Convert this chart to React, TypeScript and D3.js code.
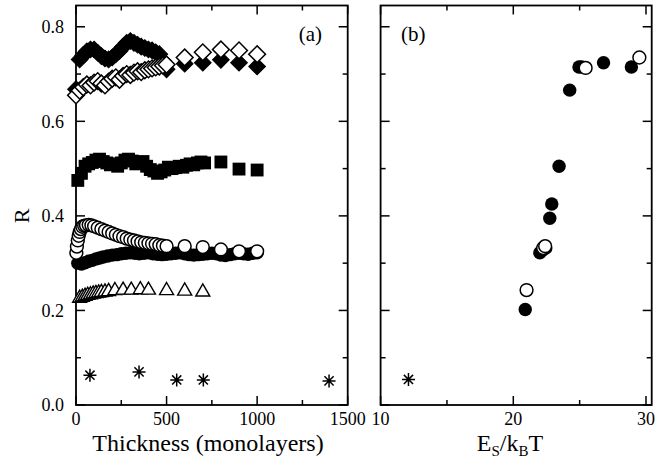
import React from "react"
import * as d3 from "d3"

// ---- panel (a): R vs thickness ----
const fdX = [0, 20, 40, 60, 80, 100, 120, 140, 160, 180, 200, 220, 240, 260, 280, 300, 320, 340, 360, 380, 400, 420, 440, 460, 480, 500, 600, 700, 800, 900, 1000]
const fdR = [0.668, 0.731, 0.74, 0.748, 0.752, 0.752, 0.745, 0.738, 0.733, 0.731, 0.735, 0.742, 0.749, 0.758, 0.766, 0.77, 0.766, 0.762, 0.758, 0.755, 0.752, 0.75, 0.746, 0.742, 0.728, 0.71, 0.722, 0.724, 0.73, 0.724, 0.716]

const odX = [0, 20, 40, 60, 80, 100, 120, 140, 160, 180, 200, 220, 240, 260, 280, 300, 320, 340, 360, 380, 400, 420, 440, 460, 480, 500, 600, 700, 800, 900, 1000]
const odR = [0.655, 0.665, 0.672, 0.678, 0.676, 0.682, 0.685, 0.68, 0.676, 0.684, 0.69, 0.693, 0.688, 0.696, 0.7, 0.698, 0.703, 0.706, 0.704, 0.708, 0.71, 0.712, 0.714, 0.716, 0.718, 0.72, 0.735, 0.746, 0.752, 0.75, 0.742]

const sqX = [10, 30, 50, 70, 90, 110, 130, 150, 170, 190, 210, 230, 250, 270, 290, 310, 330, 350, 370, 390, 410, 430, 450, 470, 490, 510, 530, 550, 570, 590, 610, 630, 650, 670, 690, 710, 800, 900, 1000]
const sqR = [0.475, 0.49, 0.505, 0.51, 0.513, 0.518, 0.52, 0.515, 0.512, 0.508, 0.51, 0.505, 0.512, 0.518, 0.52, 0.516, 0.51, 0.512, 0.515, 0.505, 0.498, 0.495, 0.49, 0.493, 0.497, 0.503, 0.5, 0.502, 0.505, 0.503, 0.507, 0.51, 0.508, 0.512, 0.514, 0.512, 0.514, 0.499, 0.497]

const fcX = [10, 30, 50, 70, 90, 110, 130, 150, 175, 200, 225, 250, 275, 300, 325, 350, 375, 400, 425, 450, 475, 500, 525, 550, 575, 600, 625, 650, 675, 700, 725, 750, 775, 800, 825, 850, 875, 900, 925, 950, 975, 1000]
const fcR = [0.3, 0.298, 0.301, 0.304, 0.306, 0.309, 0.311, 0.313, 0.315, 0.317, 0.318, 0.32, 0.321, 0.322, 0.321, 0.32, 0.321, 0.322, 0.32, 0.319, 0.318, 0.319, 0.32, 0.321, 0.322, 0.32, 0.318, 0.317, 0.318, 0.319, 0.32, 0.321, 0.32, 0.317, 0.316, 0.318, 0.32, 0.321, 0.32, 0.319, 0.321, 0.322]

const ocX = [2, 5, 10, 15, 20, 27, 35, 45, 55, 70, 85, 100, 120, 140, 160, 180, 200, 220, 240, 260, 280, 300, 320, 340, 360, 380, 400, 420, 440, 460, 480, 500, 600, 700, 800, 900, 1000]
const ocR = [0.322, 0.335, 0.348, 0.358, 0.366, 0.372, 0.377, 0.379, 0.38, 0.381, 0.38, 0.378, 0.375, 0.372, 0.369, 0.366, 0.363, 0.36, 0.357, 0.355, 0.352, 0.35, 0.348, 0.346, 0.344, 0.343, 0.342, 0.341, 0.34, 0.338, 0.337, 0.336, 0.336, 0.334, 0.329, 0.325, 0.325]

const triX = [20, 35, 50, 65, 80, 95, 110, 125, 140, 160, 180, 215, 260, 305, 355, 400, 500, 600, 700]
const triR = [0.226, 0.228, 0.23, 0.232, 0.233, 0.235, 0.236, 0.237, 0.238, 0.239, 0.24, 0.242, 0.243, 0.243, 0.244, 0.243, 0.242, 0.241, 0.239]

const starX = [77, 348, 556, 703, 1397]
const starR = [0.063, 0.07, 0.053, 0.053, 0.051]

// ---- panel (b): R vs Es/kBT ----
const bFilledX = [20.9, 22.0, 22.15, 22.3, 22.45, 22.75, 22.9, 23.45, 24.25, 24.95, 25.15, 26.8, 28.9]
const bFilledR = [0.202, 0.322, 0.326, 0.33, 0.332, 0.395, 0.425, 0.505, 0.666, 0.715, 0.715, 0.724, 0.715]
const bOpenX = [21.0, 22.25, 22.4, 25.45, 29.5]
const bOpenR = [0.243, 0.332, 0.336, 0.713, 0.735]
const bStarX = [12.1]
const bStarR = [0.054]

const yTicks = [0, 0.1, 0.2, 0.3, 0.4, 0.5, 0.6, 0.7, 0.8]
const yLabels = ["0.0", "0.2", "0.4", "0.6", "0.8"]
const xTicksA = [0, 250, 500, 750, 1000, 1250, 1500]
const xLabelsA = ["0", "500", "1000", "1500"]
const xTicksB = [10, 15, 20, 25, 30]
const xLabelsB = ["10", "20", "30"]

const FONT = "'Liberation Serif', 'Times New Roman', serif"

const top = 5.5
const bottom = 405
const y = d3.scaleLinear().domain([0, 0.845]).range([bottom, top])
const xa = d3.scaleLinear().domain([0, 1500]).range([76, 347.7])
const xb = d3.scaleLinear().domain([10, 30.43]).range([380.6, 651.7])

const zip = (xs: number[], ys: number[]) => xs.map((v, i) => [v, ys[i]])

function Frame({ x, ticks, labels, showYLabels }: any) {
  const [x0, x1] = x.range()
  const majorY = (v: number) => Math.abs(Math.round(v * 10) % 2) === 0
  const isMajorX = (v: number) => labels.includes(String(v))
  return (
    <g>
      <rect x={x0} y={top} width={x1 - x0} height={bottom - top} fill="none" stroke="#000" strokeWidth={1.8} />
      {yTicks.map((v) => {
        const len = majorY(v) ? 9 : 5
        return (
          <g key={"y" + v}>
            <line x1={x0} x2={x0 + len} y1={y(v)} y2={y(v)} stroke="#000" strokeWidth={1.5} />
            <line x1={x1} x2={x1 - len} y1={y(v)} y2={y(v)} stroke="#000" strokeWidth={1.5} />
          </g>
        )
      })}
      {ticks.map((v: number) => {
        const len = isMajorX(v) ? 9 : 5
        return (
          <g key={"x" + v}>
            <line x1={x(v)} x2={x(v)} y1={bottom} y2={bottom - len} stroke="#000" strokeWidth={1.5} />
            <line x1={x(v)} x2={x(v)} y1={top} y2={top + len} stroke="#000" strokeWidth={1.5} />
          </g>
        )
      })}
      {labels.map((l: string) => (
        <text key={"l" + l} x={x(+l)} y={425} textAnchor="middle" fontFamily={FONT} fontSize={18}>
          {l}
        </text>
      ))}
      {showYLabels &&
        yLabels.map((l) => (
          <text key={"yl" + l} x={64} y={y(+l)} dy="0.35em" textAnchor="end" fontFamily={FONT} fontSize={18}>
            {l}
          </text>
        ))}
    </g>
  )
}

const starPath = (cx: number, cy: number, r: number) => {
  const p = d3.path()
  for (let k = 0; k < 4; k++) {
    const a = (k * Math.PI) / 4
    p.moveTo(cx - r * Math.cos(a), cy - r * Math.sin(a))
    p.lineTo(cx + r * Math.cos(a), cy + r * Math.sin(a))
  }
  return p.toString()
}

const diamond = d3.symbol().type(d3.symbolSquare).size(140)
const square = d3.symbol().type(d3.symbolSquare).size(165)
const tri = d3.symbol().type(d3.symbolTriangle).size(85)

export default function App() {
  return (
    <svg width={666} height={459} style={{ position: "absolute", left: 0, top: 0, background: "#fff" }}>
      <Frame x={xa} ticks={xTicksA} labels={xLabelsA} showYLabels />
      <Frame x={xb} ticks={xTicksB} labels={xLabelsB} showYLabels={false} />

      {/* panel a markers */}
      {zip(fdX, fdR).map(([a, r], i) => (
        <path key={"fd" + i} d={diamond() as string} transform={`translate(${xa(a)},${y(r)}) rotate(45)`} fill="#000" stroke="#000" strokeWidth={1} />
      ))}
      {zip(odX, odR).map(([a, r], i) => (
        <path key={"od" + i} d={diamond() as string} transform={`translate(${xa(a)},${y(r)}) rotate(45)`} fill="#fff" stroke="#000" strokeWidth={1.5} />
      ))}
      {zip(sqX, sqR).map(([a, r], i) => (
        <path key={"sq" + i} d={square() as string} transform={`translate(${xa(a)},${y(r)})`} fill="#000" />
      ))}
      {zip(fcX, fcR).map(([a, r], i) => (
        <circle key={"fc" + i} cx={xa(a)} cy={y(r)} r={6.7} fill="#000" />
      ))}
      {zip(ocX, ocR).map(([a, r], i) => (
        <circle key={"oc" + i} cx={xa(a)} cy={y(r)} r={6.4} fill="#fff" stroke="#000" strokeWidth={1.5} />
      ))}
      {zip(triX, triR).map(([a, r], i) => (
        <path key={"tr" + i} d={tri() as string} transform={`translate(${xa(a)},${y(r)})`} fill="#fff" stroke="#000" strokeWidth={1.4} />
      ))}
      {zip(starX, starR).map(([a, r], i) => (
        <path key={"st" + i} d={starPath(xa(a), y(r), 6.5)} stroke="#000" strokeWidth={1.5} fill="none" />
      ))}

      {/* panel b markers */}
      {zip(bFilledX, bFilledR).map(([a, r], i) => (
        <circle key={"bf" + i} cx={xb(a)} cy={y(r)} r={6.7} fill="#000" />
      ))}
      {zip(bOpenX, bOpenR).map(([a, r], i) => (
        <circle key={"bo" + i} cx={xb(a)} cy={y(r)} r={6.4} fill="#fff" stroke="#000" strokeWidth={1.5} />
      ))}
      {zip(bStarX, bStarR).map(([a, r], i) => (
        <path key={"bs" + i} d={starPath(xb(a), y(r), 6.5)} stroke="#000" strokeWidth={1.5} fill="none" />
      ))}

      {/* labels */}
      <text x={322} y={41} textAnchor="end" fontFamily={FONT} fontSize={21}>(a)</text>
      <text x={401} y={41} fontFamily={FONT} fontSize={21}>(b)</text>
      <text x={208} y={451} textAnchor="middle" fontFamily={FONT} fontSize={24}>Thickness (monolayers)</text>
      <text transform={`translate(21,${y(0.4)}) rotate(-90)`} textAnchor="middle" dy="0.35em" fontFamily={FONT} fontSize={22}>R</text>
      <text x={510} y={451} textAnchor="middle" fontFamily={FONT} fontSize={24}>
        E<tspan fontSize={15} dy={5}>S</tspan>
        <tspan dy={-5}>/k</tspan>
        <tspan fontSize={15} dy={5}>B</tspan>
        <tspan dy={-5}>T</tspan>
      </text>
    </svg>
  )
}
